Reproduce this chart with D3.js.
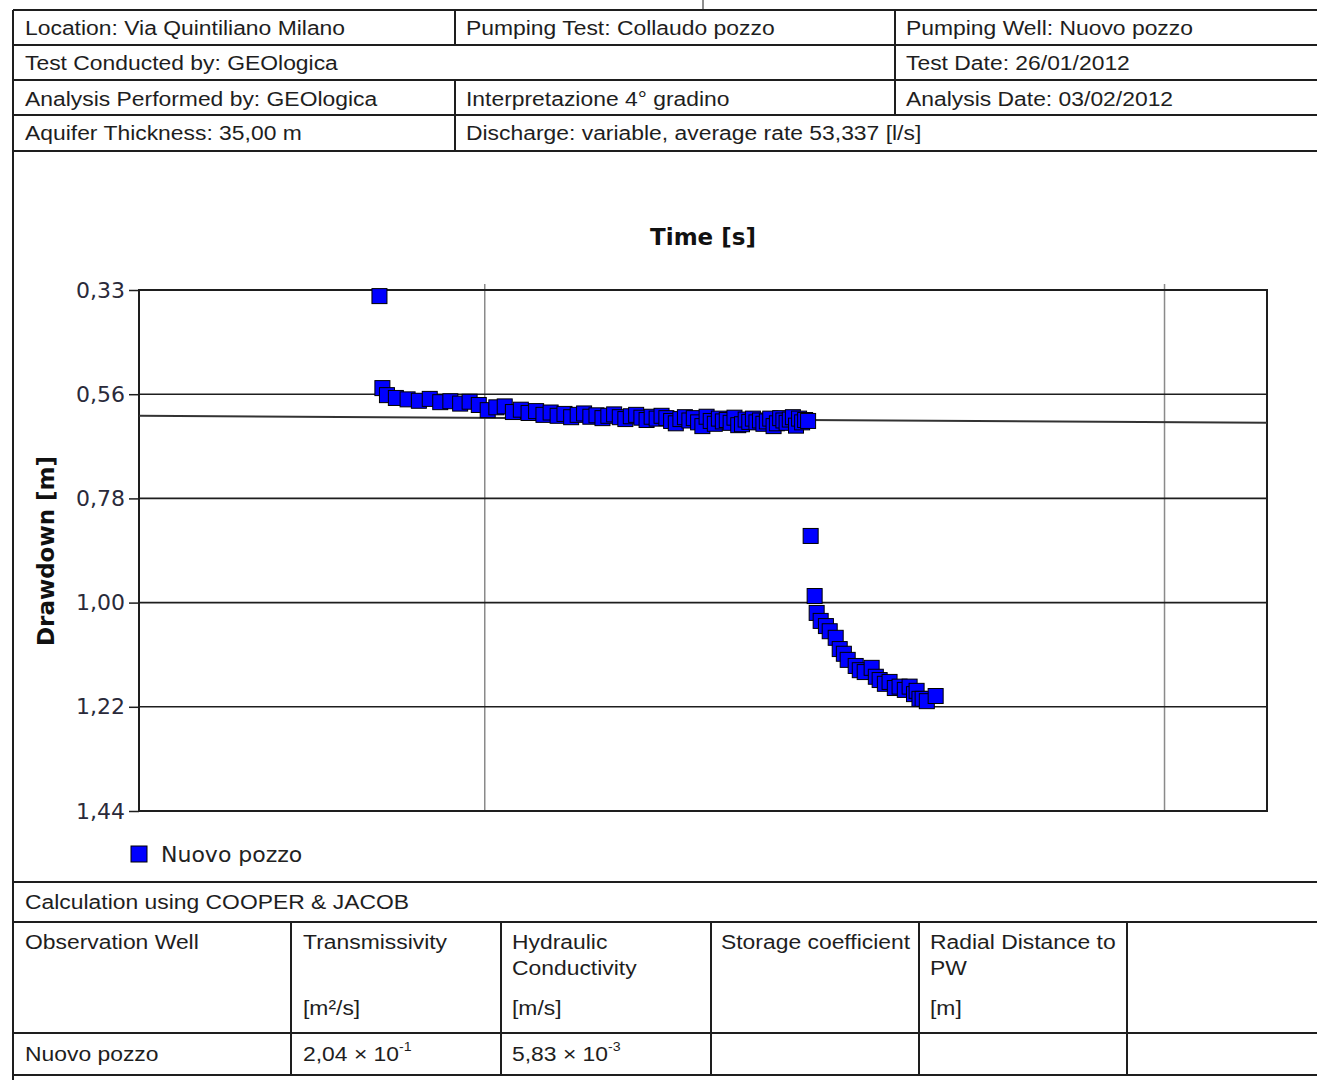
<!DOCTYPE html>
<html>
<head>
<meta charset="utf-8">
<script src="https://cdn.jsdelivr.net/npm/d3@7"></script>
<style>
	body { margin: 0; background: #fff; }
</style>
</head>
<body>
<svg id="page" width="1317" height="1080"></svg>
<script>
const obsTime = [70, 70.7, 71.8,
	74, 77, 80, 83, 86, 89, 92, 95, 98, 101, 104, 107, 110, 113, 116, 119, 122, 125,
	128, 131, 134, 137, 140, 143, 146, 149, 152, 155, 158, 161, 164, 167, 170, 173,
	176, 179, 182, 185, 188, 191, 194, 197, 200, 203, 206, 209, 212, 215, 218, 221,
	224, 227, 230, 233, 236, 239, 242, 245, 248, 251, 254, 257, 260, 263, 266, 269,
	272, 275, 278, 281, 284, 287, 290, 293, 296, 299,
	301.6, 305.7, 307.8, 312, 317.6, 321.7, 328.3, 332.8, 337.5, 341.9, 351.3, 356.2,
	362.2, 370.8, 376.1, 381, 387.8, 394, 401.1, 407.6, 414.9, 421.7, 428, 431.8,
	436, 440.7, 447, 460.6];
const obsDrawdown = [0.347, 0.543, 0.558,
	0.564, 0.567, 0.570, 0.566, 0.573, 0.571, 0.576, 0.572, 0.579, 0.590, 0.584, 0.582,
	0.594, 0.589, 0.596, 0.592, 0.600, 0.595, 0.602, 0.598, 0.605, 0.600, 0.597, 0.604,
	0.601, 0.607, 0.602, 0.599, 0.605, 0.609, 0.603, 0.600, 0.606, 0.611, 0.604, 0.608,
	0.602, 0.607, 0.613, 0.618, 0.609, 0.605, 0.612, 0.607, 0.616, 0.624, 0.604, 0.613,
	0.619, 0.608, 0.614, 0.611, 0.617, 0.606, 0.622, 0.620, 0.610, 0.615, 0.608, 0.616,
	0.612, 0.619, 0.614, 0.608, 0.624, 0.618, 0.607, 0.612, 0.617, 0.610, 0.605, 0.623,
	0.608, 0.616, 0.611, 0.613,
	0.858, 0.986, 1.022, 1.039, 1.050, 1.061, 1.075, 1.099, 1.109, 1.122, 1.135, 1.144,
	1.148, 1.139, 1.158, 1.165, 1.173, 1.169, 1.182, 1.179, 1.186, 1.179, 1.195, 1.188,
	1.205, 1.205, 1.210, 1.199];

// Cooper & Jacob straight line
const fitTime = [31, 1415];
const fitDrawdown = [0.602, 0.617];

const timeDomain = [31, 1415];
const timeGrid = [100, 1000];
const drawdownTicks = [0.334, 0.556, 0.778, 1.000, 1.222, 1.444];
const seriesName = 'Nuovo pozzo';

const headerRows = [
	[{ x: 25, t: 'Location: Via Quintiliano Milano' }, { x: 466, t: 'Pumping Test: Collaudo pozzo' }, { x: 906, t: 'Pumping Well: Nuovo pozzo' }],
	[{ x: 25, t: 'Test Conducted by: GEOlogica' }, { x: 906, t: 'Test Date: 26/01/2012' }],
	[{ x: 25, t: 'Analysis Performed by: GEOlogica' }, { x: 466, t: 'Interpretazione 4° gradino' }, { x: 906, t: 'Analysis Date: 03/02/2012' }],
	[{ x: 25, t: 'Aquifer Thickness: 35,00 m' }, { x: 466, t: 'Discharge: variable, average rate 53,337 [l/s]' }]
];
const resultHeads = [
	['Observation Well'],
	['Transmissivity', '', '[m²/s]'],
	['Hydraulic', 'Conductivity', '[m/s]'],
	['Storage coefficient'],
	['Radial Distance to', 'PW', '[m]']
];
const resultRow = [
	{ v: 'Nuovo pozzo' },
	{ v: '2,04 × 10', e: '-1' },
	{ v: '5,83 × 10', e: '-3' },
	{ v: '' },
	{ v: '' }
];

const svg = d3.select('#page');
const ink = '#1e1e1e';

svg.append('rect').attr('width', 1317).attr('height', 1080).attr('fill', '#fff');

/**
 * report table lines and texts
 */
const drawTables = function (g) {
	const hLines = [10, 45, 80, 115, 151, 882, 922, 1033, 1075];
	const vLines = [
		[13, 10, 1080], [455, 10, 45], [455, 80, 151], [895, 10, 115],
		[291, 922, 1075], [501, 922, 1075], [711, 922, 1075], [919, 922, 1075], [1127, 922, 1075]
	];
	g.selectAll('line.h').data(hLines).enter().append('line')
		.attr('x1', 13).attr('x2', 1317).attr('y1', d => d).attr('y2', d => d)
		.attr('stroke', ink).attr('stroke-width', 2);
	g.selectAll('line.v').data(vLines).enter().append('line')
		.attr('x1', d => d[0]).attr('x2', d => d[0]).attr('y1', d => d[1]).attr('y2', d => d[2])
		.attr('stroke', ink).attr('stroke-width', 2);
	g.append('line').attr('x1', 703).attr('x2', 703).attr('y1', 0).attr('y2', 9)
		.attr('stroke', ink).attr('stroke-width', 1);

	const txt = (x, y, s) => g.append('text')
		.attr('transform', `translate(${x},${y}) scale(1.09,1)`)
		.attr('font-family', '"Liberation Sans", Arial, sans-serif')
		.attr('font-size', 21).attr('fill', ink).text(s);

	const baselines = [35, 70, 105.5, 140];
	headerRows.forEach((row, i) => row.forEach(c => txt(c.x, baselines[i], c.t)));

	txt(25, 909, 'Calculation using COOPER & JACOB');

	const colX = [25, 303, 512, 721, 930];
	const lineY = [948.5, 974.5, 1014.5];
	resultHeads.forEach((lines, i) => lines.forEach((s, j) => { if (s) txt(colX[i], lineY[j], s); }));

	resultRow.forEach((c, i) => {
		if (!c.v) return;
		const t = txt(colX[i], 1061, c.v);
		if (c.e) t.append('tspan').attr('font-size', 13).attr('dy', -10).text(c.e);
	});
};

/**
 * drawdown vs log time plot
 */
const drawPlot = function (g) {
	const xScale = d3.scaleLog().domain(timeDomain).range([139, 1267]);
	const yScale = d3.scaleLinear().domain([drawdownTicks[0], drawdownTicks[drawdownTicks.length - 1]]).range([290, 811]);
	const fmt = d => d3.format('.2f')(d).replace('.', ',');

	// grid
	g.selectAll('line.vg').data(timeGrid).enter().append('line')
		.attr('x1', d => xScale(d)).attr('x2', d => xScale(d))
		.attr('y1', 284).attr('y2', 811)
		.attr('stroke', '#8a8a8a').attr('stroke-width', 1.5);
	g.selectAll('line.hg').data(drawdownTicks).enter().append('line')
		.attr('x1', 139).attr('x2', 1267)
		.attr('y1', d => yScale(d)).attr('y2', d => yScale(d))
		.attr('stroke', ink).attr('stroke-width', 1.6);

	// y axis
	const yAxis = d3.axisLeft(yScale).tickValues(drawdownTicks).tickSize(10).tickPadding(4).tickFormat(fmt);
	const gY = g.append('g').attr('transform', 'translate(139,0)').call(yAxis);
	gY.select('.domain').remove();
	gY.selectAll('.tick line').attr('stroke', ink).attr('stroke-width', 1.5);
	gY.selectAll('.tick text')
		.attr('font-family', '"DejaVu Sans", Verdana, sans-serif')
		.attr('font-size', 22).attr('fill', '#2a2a3a');

	g.append('rect').attr('x', 139).attr('y', 290).attr('width', 1128).attr('height', 521)
		.attr('fill', 'none').attr('stroke', ink).attr('stroke-width', 2);

	// fitted line
	const fitPts = fitTime.map((t, i) => ({ t: t, s: fitDrawdown[i] }));
	const line = d3.line().x(d => xScale(d.t)).y(d => yScale(d.s));
	g.append('path').attr('d', line(fitPts))
		.attr('fill', 'none').attr('stroke', '#333').attr('stroke-width', 2);

	// observations
	const obs = obsTime.map((t, i) => ({ t: t, s: obsDrawdown[i] }));
	g.selectAll('rect.obs').data(obs).enter().append('rect')
		.attr('x', d => xScale(d.t) - 7.5).attr('y', d => yScale(d.s) - 7.5)
		.attr('width', 15).attr('height', 15)
		.attr('fill', '#0000ff').attr('stroke', '#000').attr('stroke-width', 1);

	// titles
	g.append('text').attr('x', 703).attr('y', 245).attr('text-anchor', 'middle')
		.attr('font-family', '"DejaVu Sans", Verdana, sans-serif').attr('font-weight', 'bold')
		.attr('font-size', 23).attr('fill', '#111').text('Time [s]');
	g.append('text').attr('transform', 'translate(54,551) rotate(-90)').attr('text-anchor', 'middle')
		.attr('font-family', '"DejaVu Sans", Verdana, sans-serif').attr('font-weight', 'bold')
		.attr('font-size', 23).attr('fill', '#111').text('Drawdown [m]');

	// legend
	g.append('rect').attr('x', 131).attr('y', 846).attr('width', 16).attr('height', 16)
		.attr('fill', '#0000ff').attr('stroke', '#000').attr('stroke-width', 1);
	g.append('text').attr('x', 161).attr('y', 862)
		.attr('font-family', '"DejaVu Sans", Verdana, sans-serif')
		.attr('font-size', 22).attr('fill', '#222').text(seriesName);
};

drawTables(svg.append('g').classed('tables', true));
drawPlot(svg.append('g').classed('plot', true));
</script>
</body>
</html>
